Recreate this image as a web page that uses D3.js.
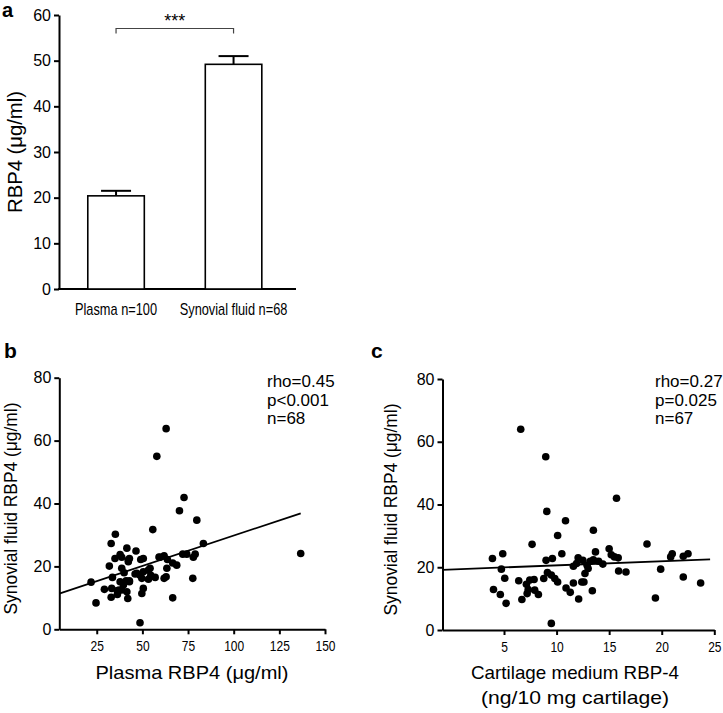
<!DOCTYPE html>
<html><head><meta charset="utf-8">
<script src="https://cdn.jsdelivr.net/npm/d3@7"></script>
<style>
body{margin:0;background:#fff;}
svg{display:block;}
text{font-family:"Liberation Sans",Arial,Helvetica,sans-serif;fill:#000;}
</style></head>
<body>
<svg id="chart" width="723" height="713"></svg>
<script>
// ---------- DATA ----------
const barCategories = ["Plasma n=100", "Synovial fluid n=68"];
const barMeans = [20.4, 49.2];
const barSEM = [1.1, 1.8];
const barYTicks = [0, 10, 20, 30, 40, 50, 60];

const plasmaX = [63.0,57.9,72.8,70.3,79.8,55.7,35.2,32.9,83.4,136.7,41.5,46.5,35.0,38.7,42.3,50.5,59.1,61.9,63.7,66.6,68.8,72.1,74.3,78.9,77.9,31.9,38.7,40.0,46.0,48.7,50.5,53.3,54.6,63.4,63.0,61.9,57.0,53.3,49.7,77.6,33.6,21.9,37.8,41.1,42.9,39.6,29.2,33.2,36.3,38.7,41.5,50.5,49.7,32.9,36.3,42.0,24.6,66.6,48.7,49.1,42.3,54.2,59.7,42.9,37.4,46.9,37.8,42.9];
const synovialB = [63.8,55.0,41.9,37.7,34.7,31.7,30.2,27.3,27.3,24.1,25.8,24.9,22.5,22.9,22.0,22.5,23.0,23.4,22.2,21.1,20.4,23.9,23.9,23.9,22.9,20.1,19.4,18.0,17.6,17.2,18.3,18.8,17.2,19.4,16.7,16.2,16.5,15.9,16.2,16.2,16.5,15.0,15.1,15.4,15.4,14.1,12.7,13.0,12.3,12.5,11.9,13.0,11.4,10.2,11.1,9.8,8.4,10.0,2.1,22.2,21.5,19.4,22.9,15.1,12.5,17.8,23.8,22.5];
const fitB = {intercept: 10.5, slope: 0.193};
const statsB = ["rho=0.45", "p<0.001", "n=68"];
const xTicksB = [25, 50, 75, 100, 125, 150];

const cartilageX = [6.59,8.97,15.7,9.07,10.85,13.5,10.1,7.67,18.6,4.88,3.9,4.75,5.07,4.0,4.65,5.2,6.4,6.7,7.13,7.3,7.86,7.92,8.27,7.2,8.78,9.0,9.6,9.13,9.5,9.83,10.1,9.5,10.5,10.9,11.3,11.6,11.6,12.1,12.05,12.5,12.4,12.6,12.7,12.9,13.2,13.4,13.5,13.7,14.0,14.4,15.0,15.2,15.5,15.9,16.6,19.9,19.4,20.85,21.0,22.05,22.5,22.05,23.7,13.0,7.45,11.9,15.86];
const synovialC = [64.0,55.2,42.0,37.8,34.8,31.8,30.1,27.3,27.4,24.3,22.8,19.4,16.5,12.9,11.3,8.5,15.7,9.7,14.6,12.9,16.1,12.7,11.3,11.6,16.4,22.2,22.8,18.3,17.5,16.4,15.3,2.1,24.3,13.4,12.0,15.0,20.3,9.9,23.0,22.2,15.3,15.3,18.0,20.6,21.9,12.5,22.4,24.9,21.9,21.0,25.9,24.0,23.3,18.8,18.5,19.4,10.2,23.3,24.3,23.5,24.3,16.9,15.0,19.6,15.9,21.2,23.0];
const fitC = {intercept: 19.3, slope: 0.13};
const statsC = ["rho=0.27", "p=0.025", "n=67"];
const xTicksC = [5, 10, 15, 20, 25];
const scatterYTicks = [0, 20, 40, 60, 80];

// ---------- DRAW ----------
const svg = d3.select("#chart");
svg.append("rect").attr("width",723).attr("height",713).attr("fill","#fff");

function styleAxis(g){
  g.selectAll("path.domain").attr("stroke","#000").attr("stroke-width",2);
  g.selectAll(".tick line").attr("stroke","#000").attr("stroke-width",2);
}

// ===== Panel a =====
const yA = d3.scaleLinear().domain([0,60]).range([289,15]);
const xA = d3.scaleBand().domain(barCategories).range([59,290.6]).paddingInner(0.519).paddingOuter(0.245);
const gA = svg.append("g");

const ayA = gA.append("g").attr("transform","translate(59,0)")
  .call(d3.axisLeft(yA).tickValues(barYTicks).tickSize(5).tickSizeOuter(0).tickPadding(3));
styleAxis(ayA);
ayA.selectAll("text").attr("font-size",16);

gA.append("line").attr("x1",58).attr("x2",296).attr("y1",yA(0)).attr("y2",yA(0)).attr("stroke","#000").attr("stroke-width",2);

barCategories.forEach((c,i)=>{
  const cx = xA(c)+xA.bandwidth()/2;
  gA.append("line").attr("x1",cx).attr("x2",cx).attr("y1",yA(barMeans[i])).attr("y2",yA(barMeans[i]+barSEM[i])).attr("stroke","#000").attr("stroke-width",2);
  gA.append("line").attr("x1",cx-15).attr("x2",cx+15).attr("y1",yA(barMeans[i]+barSEM[i])).attr("y2",yA(barMeans[i]+barSEM[i])).attr("stroke","#000").attr("stroke-width",2);
});
gA.selectAll("rect.bar").data(barMeans).join("rect").attr("class","bar")
  .attr("x",(d,i)=>xA(barCategories[i])).attr("width",xA.bandwidth())
  .attr("y",d=>yA(d)).attr("height",d=>yA(0)-yA(d))
  .attr("fill","#fff").attr("stroke","#000").attr("stroke-width",1.6);

gA.selectAll("g.cat").data(barCategories).join("g").attr("class","cat")
  .attr("transform",d=>`translate(${xA(d)+xA.bandwidth()/2},315) scale(0.8,1)`)
  .append("text").attr("text-anchor","middle").attr("font-size",16).text(d=>d);

const c0 = xA(barCategories[0])+xA.bandwidth()/2, c1 = xA(barCategories[1])+xA.bandwidth()/2;
gA.append("path").attr("d",`M${c0},33.5V28.5H${c1}V33.5`).attr("fill","none").attr("stroke","#444").attr("stroke-width",1.2);
gA.append("text").attr("x",(c0+c1)/2).attr("y",27).attr("text-anchor","middle").attr("font-size",18).text("***");

gA.append("text").attr("transform","translate(22,152) rotate(-90)").attr("text-anchor","middle")
  .attr("font-size",20).attr("textLength",122).attr("lengthAdjust","spacingAndGlyphs").text("RBP4 (μg/ml)");
gA.append("text").attr("x",2).attr("y",17).attr("font-size",20).attr("font-weight","bold").text("a");

// ===== Scatter panels =====
function scatter(opt){
  const g = svg.append("g");
  const x = d3.scaleLinear().domain(opt.xDomain).range(opt.xRange);
  const y = d3.scaleLinear().domain([0,80]).range(opt.yRange);
  const ay = g.append("g").attr("transform",`translate(${opt.xRange[0]},0)`)
    .call(d3.axisLeft(y).tickValues(scatterYTicks).tickSize(5).tickSizeOuter(0).tickPadding(3));
  styleAxis(ay);
  ay.selectAll("text").attr("font-size",16);
  const ax = g.append("g").attr("transform",`translate(0,${opt.yRange[0]})`)
    .call(d3.axisBottom(x).tickValues(opt.xTicks).tickSize(5).tickSizeOuter(0).tickPadding(6));
  styleAxis(ax);
  ax.selectAll("text").attr("font-size",15).attr("transform","scale(0.8,1)");

  const x0 = opt.xDomain[0], x1 = d3.max(opt.xs);
  const fitLine = [x0, opt.fitEnd ?? x1].map(v=>[x(v), y(opt.fit.intercept+opt.fit.slope*v)]);
  g.append("path").attr("d",d3.line()(fitLine)).attr("stroke","#000").attr("stroke-width",1.8).attr("fill","none");

  g.selectAll("circle").data(opt.xs.map((v,i)=>[v,opt.ys[i]])).join("circle")
    .attr("cx",d=>x(d[0])).attr("cy",d=>y(d[1])).attr("r",3.8).attr("fill","#000");

  g.selectAll("text.stat").data(opt.stats).join("text").attr("class","stat")
    .attr("x",opt.statX).attr("y",(d,i)=>387+i*18.6).attr("font-size",17).text(d=>d);

  g.append("text").attr("transform",`translate(${opt.yTitleX},${(opt.yRange[0]+opt.yRange[1])/2+5}) rotate(-90)`)
    .attr("text-anchor","middle").attr("font-size",19).attr("textLength",212).attr("lengthAdjust","spacingAndGlyphs")
    .text("Synovial fluid RBP4 (μg/ml)");
  opt.xTitle.forEach((t,i)=>{
    g.append("text").attr("x",opt.xTitleX).attr("y",679+i*25).attr("text-anchor","middle")
      .attr("font-size",19).attr("textLength",opt.xTitleLen[i]).attr("lengthAdjust","spacingAndGlyphs").text(t);
  });
  g.append("text").attr("x",opt.letterX).attr("y",358).attr("font-size",21).attr("font-weight","bold").text(opt.letter);
}

scatter({xDomain:[4.5,150], xRange:[59.3,325], yRange:[629.3,377.7], xTicks:xTicksB,
  xs:plasmaX, ys:synovialB, fit:fitB, stats:statsB, statX:267, yTitleX:17,
  xTitle:["Plasma RBP4 (μg/ml)"], xTitleX:192, xTitleLen:[193], letter:"b", letterX:4});
scatter({xDomain:[-0.85,25], xRange:[442.5,714.3], yRange:[630,379], xTicks:xTicksC,
  xs:cartilageX, ys:synovialC, fit:fitC, stats:statsC, statX:655, yTitleX:397, fitEnd:24.6,
  xTitle:["Cartilage medium RBP-4","(ng/10 mg cartilage)"], xTitleX:575, xTitleLen:[208,188], letter:"c", letterX:371});
</script>
</body></html>
